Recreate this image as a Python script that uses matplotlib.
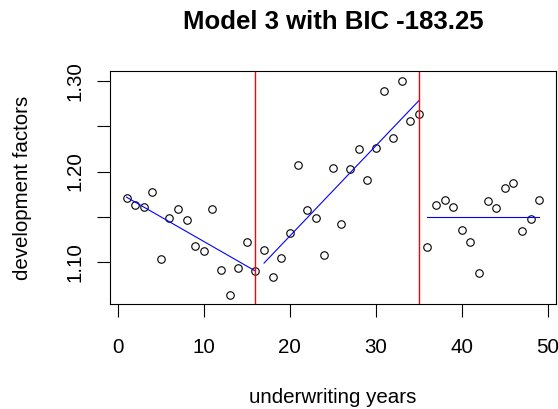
import matplotlib.pyplot as plt

plt.rcParams['font.family'] = ['Liberation Sans', 'DejaVu Sans']

years = list(range(1, 50))
factors = [
    1.1705, 1.1627, 1.1605, 1.1775, 1.1027, 1.1480, 1.1580, 1.1458, 1.1180, 1.1118,
    1.1580, 1.0913, 1.0628, 1.0927, 1.1222, 1.0897, 1.1134, 1.0835, 1.1045, 1.1314,
    1.2070, 1.1569, 1.1490, 1.1074, 1.2040, 1.1417, 1.2030, 1.2247, 1.1910, 1.2262,
    1.2888, 1.2368, 1.3007, 1.2564, 1.2638, 1.1163, 1.1624, 1.1687, 1.1610, 1.1355,
    1.1222, 1.0879, 1.1668, 1.1594, 1.1815, 1.1875, 1.1340, 1.1472, 1.1687,
]

# fitted segments (start/end of each regression line)
seg_x = [[1, 16], [17, 35], [36, 49]]
seg_y = [[1.1716, 1.0897], [1.0986, 1.2785], [1.1491, 1.1491]]

breaks = [16, 35]

fig = plt.figure(figsize=(5.58, 4.09), dpi=100)
ax = fig.add_axes([110 / 558, 104.7 / 409, 445.7 / 558, 233.6 / 409])

ax.plot(years, factors, 'o', mfc='none', mec='black', ms=5.4, mew=0.8)
for xs, ys in zip(seg_x, seg_y):
    ax.plot(xs, ys, color='blue', lw=0.8)
for b in breaks:
    ax.axvline(b, color='#ff0000', lw=1.0)

ax.set_xlim(-0.92, 50.92)
ax.set_ylim(1.0529, 1.3117)
ax.set_xticks([0, 10, 20, 30, 40, 50])
ax.set_yticks([1.10, 1.15, 1.20, 1.25, 1.30])
ax.set_yticklabels(['1.10', '', '1.20', '', '1.30'], rotation=90, va='center')

ax.tick_params(axis='both', length=9.5, width=0.8, labelsize=14.8)
ax.tick_params(axis='x', pad=15)
ax.tick_params(axis='y', pad=9)
for s in ax.spines.values():
    s.set_linewidth(0.8)

ax.set_xlabel('underwriting years', fontsize=14.8)
ax.set_ylabel('development factors', fontsize=14.8)
ax.xaxis.set_label_coords(0.5, -0.397)
ax.xaxis.label.set_va('center')
ax.yaxis.set_label_coords(-0.197, 0.5)
ax.yaxis.label.set_va('center')

ax.set_title('Model 3 with BIC -183.25', fontsize=18.5, fontweight='bold',
             y=1.208, va='center', pad=0)

fig.savefig('out.png', dpi=100)
